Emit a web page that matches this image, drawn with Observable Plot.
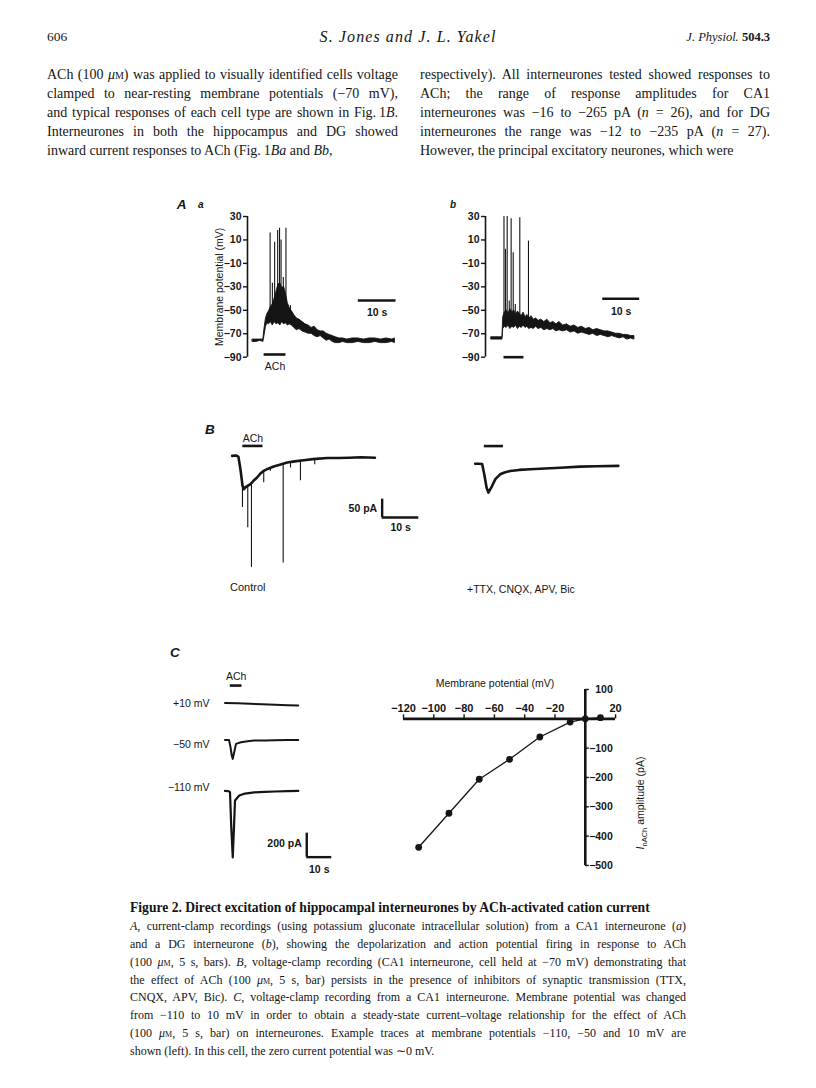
<!DOCTYPE html>
<html><head><meta charset="utf-8">
<script src="https://cdn.jsdelivr.net/npm/d3@7"></script>
<script src="https://cdn.jsdelivr.net/npm/@observablehq/plot@0.6"></script>
<style>
body{margin:0;background:#fff;}
#page{position:relative;width:816px;height:1088px;overflow:hidden;background:#fff;color:#151515;}
.t{position:absolute;white-space:nowrap;line-height:1;}
.serif{font-family:"Liberation Serif","Times New Roman",serif;}
.sans{font-family:"Liberation Sans",Arial,sans-serif;}
.jl{position:absolute;white-space:nowrap;line-height:1;text-align:justify;}
.sc{font-variant:small-caps;}
</style></head><body><div id="page"></div>
<script>
// ---------- DATA ----------
// Panel A a: current clamp CA1 interneurone (time s, membrane potential mV)
const aT  = [0,1,2,2.8,3.1,3.5,3.9,4.3,4.8,5.3,5.8,6.3,6.8,7.3,7.8,8.3,8.8,9.3,9.8,10.4,11,11.7,12.4,13.2,14,14.8,15.6,16.4,17.2,18,18.8,19.6,20.4,21.2,22,23,24,25,26.5,28,29.5,31,32.5,34,35.5,37,37.7];
const aLo = [-77,-77,-76,-77,-72,-64,-61,-62,-60,-63,-60,-62,-61,-63,-60,-62,-61,-63,-62,-63,-65,-67,-66,-68,-69,-70,-70,-72,-73,-72,-74,-76,-75,-77,-78,-78,-77,-78,-78,-77,-78,-78,-77,-78,-78,-77,-78];
const aHi = [-75,-75,-75,-75,-66,-57,-53,-51,-47,-45,-40,-34,-28,-27,-31,-30,-36,-44,-48,-51,-54,-57,-58,-60,-62,-63,-65,-64,-67,-68,-68,-70,-71,-72,-73,-74,-74,-75,-74,-74,-75,-74,-74,-75,-74,-75,-74];
const aSpikeT    = [4.6,5.2,5.8,6.6,7.1,7.5,8.1,8.8,10.0];
const aSpikePeak = [16,-27,8,18,20,10,-22,20,-46];
const achA_a = [3.0, 8.8];

// Panel A b: DG interneurone
const bT  = [0,1,2,2.9,3.1,3.5,4,4.5,5,5.5,6,6.5,7,7.5,8,8.5,9,9.5,10,10.6,11.2,11.8,12.5,13.2,14,14.8,15.6,16.4,17.2,18,19,20,21,22,23,24,25,26,27,28,29,30,31,32,33,34,35,36,37,37.9];
const bLo = [-75,-75,-75,-75,-66,-64,-65,-63,-66,-64,-65,-63,-66,-64,-65,-63,-65,-64,-66,-65,-66,-64,-66,-65,-67,-66,-67,-66,-68,-67,-68,-67,-69,-68,-70,-69,-70,-71,-70,-72,-71,-72,-73,-72,-73,-74,-73,-75,-74,-75];
const bHi = [-73,-73,-73,-73,-56,-52,-50,-53,-49,-52,-50,-54,-51,-53,-55,-52,-56,-54,-57,-55,-58,-57,-59,-58,-60,-58,-61,-60,-62,-60,-63,-62,-64,-63,-65,-64,-66,-65,-67,-66,-67,-68,-68,-69,-70,-70,-71,-71,-72,-72];
const bSpikeT    = [3.3,3.7,4.15,4.7,5.2,5.75,6.3,7.5,9.8];
const bSpikePeak = [30,2,30,-42,28,-1,-45,29,9];
const achA_b = [3.3, 8.6];
const vTicks = [30,10,-10,-30,-50,-70,-90];

// Panel B: voltage clamp (time s, current pA)
const cT = [0,1,1.7,2.3,2.8,3.2,3.6,4.2,5,5.8,6.8,7.7,8.6,9.8,11.3,13,15,17,19.5,22,25.9,29,32,35,38.9];
const cI = [0,1,-2,-40,-80,-91,-86,-82,-77,-68,-59,-48,-41,-35,-29,-24,-18,-15,-12,-9,-6,-6,-5,-4,-5];
const cSpikeT    = [2.8,4.25,5.26,8.6,10.4,13.9,15.9,18.6,22.5];
const cSpikeBase = [-80,-82,-77,-41,-32,-24,-18,-12,-9];
const cSpikePeak = [-141,-196,-304,-73,-42,-292,-33,-68,-24];
const achB_c = [2.9, 8.4];
const rT = [0,1,1.9,2.5,3.1,3.6,4.6,5.5,6.8,8,9.5,12,15,19,23.2,28.6,33,39];
const rI = [0,0,-1,-30,-65,-79,-61,-42,-29,-24,-20,-17,-15,-13,-11,-8,-7,-6];
const achB_r = [2.5, 7.7];

// Panel C traces
const p10T  = [0,5,10,15,20,25,29.3];
const p10I  = [0,-2,-6,-10,-13,-17,-20];
const m50T  = [0,1.6,2.2,2.7,3.1,3.5,4.4,6.4,9,11.7,16,20,25,29.3];
const m50I  = [0,0,-60,-130,-158,-120,-33,-20,-12,-6,-4,-2,-1,0];
const m110T = [0,1.5,2.0,2.5,3.1,3.6,4.0,5.7,8,11.7,16,20,25,29.3];
const m110I = [0,-3,-10,-300,-555,-300,-80,-38,-22,-12,-8,-5,-2,0];
const achC = [2.1, 6.8];
const cLabels = ["+10 mV","\u221250 mV","\u2212110 mV"];

// Panel C: I-V relationship
const ivV = [-110,-90,-70,-50,-30,-10,0,10];
const ivI = [-438,-322,-206,-138,-62,-11,0,4];
const ivXTicks = [-120,-100,-80,-60,-40,-20,20];
const ivYTicks = [100,-100,-200,-300,-400,-500];

// ---------- LAYOUT HELPERS ----------
const page = document.getElementById("page");
const INK = "#151515";
const fmt = d => d < 0 ? "\u2212" + Math.abs(d) : String(d);
const tab = (xs, ys, k1="t", k2="v") => xs.map((x,i)=>({[k1]:x,[k2]:ys[i]}));

function txt(html, x, y, o={}) {
  const d = document.createElement("div");
  d.className = "t " + (o.cls || "sans");
  d.innerHTML = html;
  d.style.fontSize = (o.size || 11) + "px";
  d.style.fontWeight = o.weight || "normal";
  d.style.fontStyle = o.italic ? "italic" : "normal";
  if (o.ls) d.style.letterSpacing = o.ls + "px";
  d.style.left = x + "px"; d.style.top = y + "px";
  const tx = o.anchor === "middle" ? "-50%" : o.anchor === "end" ? "-100%" : "0";
  d.style.transform = `translate(${tx},-50%)` + (o.rotate ? ` rotate(${o.rotate}deg)` : "");
  page.append(d);
}
function jline(html, x, y, w, size, justify, cls="serif", weight="normal") {
  const d = document.createElement("div");
  d.className = "jl " + cls;
  d.innerHTML = html;
  d.style.fontSize = size + "px";
  d.style.fontWeight = weight;
  d.style.left = x + "px"; d.style.top = y + "px"; d.style.width = w + "px";
  d.style.textAlignLast = justify ? "justify" : "left";
  d.style.transform = "translateY(-50%)";
  page.append(d);
}
function place({x0, kx, xd, y0, ky, yd, m=[10,10,10,10], marks}) {
  const [mt, mr, mb, ml] = m;
  const fl = x0 + kx*xd[0], fw = kx*(xd[1]-xd[0]);
  const ft = y0 - ky*yd[1], fh = ky*(yd[1]-yd[0]);
  const svg = Plot.plot({
    width: ml+fw+mr, height: mt+fh+mb,
    marginTop: mt, marginRight: mr, marginBottom: mb, marginLeft: ml,
    x: {domain: xd, axis: null}, y: {domain: yd, axis: null},
    style: {fontFamily: "Liberation Sans, Arial, sans-serif", fontSize: "10.5px", color: INK, background: "transparent", overflow: "visible"},
    marks
  });
  svg.style.position = "absolute";
  svg.style.left = (fl-ml) + "px";
  svg.style.top = (ft-mt) + "px";
  page.append(svg);
}
const K = v => () => v;

// ---------- PAGE TEXT ----------
txt("606", 47, 37, {cls:"serif", size:13.5});
txt("S. Jones and J. L. Yakel", 408, 37, {cls:"serif", size:16, italic:true, anchor:"middle", ls:1.1});
txt("J. Physiol. <b style='font-style:normal'>504.3</b>", 770, 37, {cls:"serif", size:12.5, italic:true, anchor:"end"});

const mu = "(100 <i>\u03bc</i><span class='sc'>m</span>)";
const leftLines = [
  `ACh ${mu} was applied to visually identified cells voltage`,
  "clamped to near-resting membrane potentials (\u221270 mV),",
  "and typical responses of each cell type are shown in Fig.\u20091<i>B</i>.",
  "Interneurones in both the hippocampus and DG showed",
  "inward current responses to ACh (Fig.\u20091<i>Ba</i> and <i>Bb</i>,"
];
const rightLines = [
  "respectively). All interneurones tested showed responses to",
  "ACh; the range of response amplitudes for CA1",
  "interneurones was \u221216 to \u2212265 pA (<i>n</i> = 26), and for DG",
  "interneurones the range was \u221212 to \u2212235 pA (<i>n</i> = 27).",
  "However, the principal excitatory neurones, which were"
];
const bodyY = [75, 94, 113, 132, 151];
leftLines.forEach((s,i)=> jline(s, 47, bodyY[i], 351, 14, i < 4));
rightLines.forEach((s,i)=> jline(s, 420, bodyY[i], 350, 14, i < 4));

// caption
const mu2 = "<i>\u03bc</i><span class='sc'>m</span>";
jline("Figure 2. Direct excitation of hippocampal interneurones by ACh-activated cation current", 130, 908, 556, 13.6, false, "serif", "bold");
const capLines = [
  "<i>A</i>, current-clamp recordings (using potassium gluconate intracellular solution) from a CA1 interneurone (<i>a</i>)",
  "and a DG interneurone (<i>b</i>), showing the depolarization and action potential firing in response to ACh",
  `(100 ${mu2}, 5 s, bars). <i>B</i>, voltage-clamp recording (CA1 interneurone, cell held at \u221270 mV) demonstrating that`,
  `the effect of ACh (100 ${mu2}, 5 s, bar) persists in the presence of inhibitors of synaptic transmission (TTX,`,
  "CNQX, APV, Bic). <i>C</i>, voltage-clamp recording from a CA1 interneurone. Membrane potential was changed",
  "from \u2212110 to 10 mV in order to obtain a steady-state current\u2013voltage relationship for the effect of ACh",
  `(100 ${mu2}, 5 s, bar) on interneurones. Example traces at membrane potentials \u2212110, \u221250 and 10 mV are`,
  "shown (left). In this cell, the zero current potential was \u223c0 mV."
];
const capY = [926, 944, 962, 979.5, 997, 1015, 1033, 1050.5];
capLines.forEach((s,i)=> jline(s, 130, capY[i], 556, 12, i < 7));

// figure letters and labels
txt("A", 176.7, 205, {size:13.5, italic:true, weight:"bold"});
txt("a", 198, 205, {size:10, italic:true, weight:"bold"});
txt("b", 450, 205, {size:10, italic:true, weight:"bold"});
txt("B", 205, 430, {size:13.5, italic:true, weight:"bold"});
txt("C", 170, 653, {size:13.5, italic:true, weight:"bold"});
txt("Control", 230, 587, {size:11});
txt("+TTX, CNQX, APV, Bic", 467, 588.5, {size:10.5});
[702.7, 744, 786.7].forEach((y,i)=> txt(cLabels[i], 209.5, y, {size:10.5, anchor:"end"}));
txt("Membrane potential (mV)", 495, 682.7, {size:10.5, anchor:"middle"});
txt("<i>I</i><sub style='font-size:7.5px'>nACh</sub> amplitude (pA)", 641.7, 803, {size:10.5, anchor:"middle", rotate:-90});

// ---------- PANEL A ----------
function panelA(T, Lo, Hi, spT, spPeak, ach, opt) {
  const xd = opt.xd, yd = [-90, 30];
  const tickLen = 4/3.77;
  place({x0: opt.x0, kx: 3.77, xd, y0: 251.2, ky: 140.7/120, yd, m: [12, 6, 22, 48], marks: [
    Plot.ruleX([xd[0]], {y1: K(-90), y2: K(30), stroke: INK, strokeWidth: 1.6}),
    Plot.ruleY(vTicks, {y: d=>d, x1: K(xd[0]-tickLen), x2: K(xd[0]), stroke: INK, strokeWidth: 1.4}),
    Plot.text(vTicks, {x: K(xd[0]), y: d=>d, text: fmt, textAnchor: "end", dx: -6, fontWeight: "bold", fill: INK}),
    ...(opt.ylabel ? [Plot.text([opt.ylabel], {x: K(xd[0]), y: K(-30), text: d=>d, rotate: -90, dx: -27.4, fill: INK, fontSize: 10.5})] : []),
    Plot.areaY(T.map((t,i)=>({t, lo: Lo[i], hi: Hi[i]})), {x: "t", y1: "lo", y2: "hi", fill: INK, stroke: INK, strokeWidth: 0.9}),
    Plot.ruleX(spT.map((t,i)=>({t, p: spPeak[i]})), {x: "t", y1: K(-60), y2: "p", stroke: INK, strokeWidth: 1.1}),
    Plot.ruleY([opt.barY], {x1: K(ach[0]), x2: K(ach[1]), stroke: INK, strokeWidth: 2.6}),
    ...(opt.achText ? [Plot.text(["ACh"], {x: K((ach[0]+ach[1])/2), y: K(opt.barY), text: d=>d, dy: 12, fill: INK, fontSize: 10.5})] : []),
    Plot.ruleY([opt.sbY], {x1: K(opt.sb[0]), x2: K(opt.sb[1]), stroke: INK, strokeWidth: 2.6}),
    Plot.text(["10 s"], {x: K((opt.sb[0]+opt.sb[1])/2), y: K(opt.sbY), text: d=>d, dy: 12.5, fill: INK, fontWeight: "bold", fontSize: 10.5})
  ]});
}
panelA(aT, aLo, aHi, aSpikeT, aSpikePeak, achA_a, {x0: 252.7, xd: [-1.4, 38.5], barY: -87.7, achText: true, sb: [28, 38], sbY: -41.7, ylabel: "Membrane potential (mV)"});
panelA(bT, bLo, bHi, bSpikeT, bSpikePeak, achA_b, {x0: 491, xd: [-1.6, 40], barY: -90, achText: false, sb: [29.5, 39.3], sbY: -40.2});

// ---------- PANEL B ----------
place({x0: 231.7, kx: 3.67, xd: [-1, 52], y0: 455, ky: 0.367, yd: [-310, 50], m: [10,10,10,10], marks: [
  Plot.ruleX(cSpikeT.map((t,i)=>({t, b: cSpikeBase[i], p: cSpikePeak[i]})), {x: "t", y1: "b", y2: "p", stroke: INK, strokeWidth: 1.1}),
  Plot.line(tab(cT, cI), {x: "t", y: "v", stroke: INK, strokeWidth: 2.6}),
  Plot.ruleY([27], {x1: K(achB_c[0]), x2: K(achB_c[1]), stroke: INK, strokeWidth: 2.6}),
  Plot.text(["ACh"], {x: K((achB_c[0]+achB_c[1])/2), y: K(27), text: d=>d, dy: -7.5, fill: INK, fontSize: 10.5}),
  Plot.ruleX([40.87], {y1: K(-168), y2: K(-118), stroke: INK, strokeWidth: 2.4}),
  Plot.ruleY([-168], {x1: K(40.87), x2: K(50.85), stroke: INK, strokeWidth: 2.4}),
  Plot.text(["50 pA"], {x: K(40.87), y: K(-143), text: d=>d, dx: -5, textAnchor: "end", fill: INK, fontWeight: "bold"}),
  Plot.text(["10 s"], {x: K(45.9), y: K(-168), text: d=>d, dy: 10.5, fill: INK, fontWeight: "bold"})
]});
place({x0: 475, kx: 3.67, xd: [-1, 40], y0: 462.7, ky: 0.367, yd: [-90, 55], m: [10,10,10,10], marks: [
  Plot.line(tab(rT, rI), {x: "t", y: "v", stroke: INK, strokeWidth: 2.6}),
  Plot.ruleY([48], {x1: K(achB_r[0]), x2: K(achB_r[1]), stroke: INK, strokeWidth: 2.6})
]});

// ---------- PANEL C traces ----------
place({x0: 224, kx: 2.5, xd: [-1, 31], y0: 702.5, ky: 0.12, yd: [-40, 230], m: [10,10,10,10], marks: [
  Plot.line(tab(p10T, p10I), {x: "t", y: "v", stroke: INK, strokeWidth: 2}),
  Plot.ruleY([146], {x1: K(achC[0]), x2: K(achC[1]), stroke: INK, strokeWidth: 2.6}),
  Plot.text(["ACh"], {x: K((achC[0]+achC[1])/2), y: K(146), text: d=>d, dy: -8.5, fill: INK, fontSize: 10.5})
]});
place({x0: 224, kx: 2.5, xd: [-1, 31], y0: 739.3, ky: 0.12, yd: [-170, 20], m: [10,10,10,10], marks: [
  Plot.line(tab(m50T, m50I), {x: "t", y: "v", stroke: INK, strokeWidth: 2})
]});
place({x0: 224, kx: 2.5, xd: [-1, 44], y0: 790.5, ky: 0.12, yd: [-680, 20], m: [10,10,10,10], marks: [
  Plot.line(tab(m110T, m110I), {x: "t", y: "v", stroke: INK, strokeWidth: 2.2}),
  Plot.ruleX([32.7], {y1: K(-552), y2: K(-352), stroke: INK, strokeWidth: 2.4}),
  Plot.ruleY([-552], {x1: K(32.7), x2: K(42.7), stroke: INK, strokeWidth: 2.4}),
  Plot.text(["200 pA"], {x: K(32.7), y: K(-440), text: d=>d, dx: -5, textAnchor: "end", fill: INK, fontWeight: "bold"}),
  Plot.text(["10 s"], {x: K(37.7), y: K(-552), text: d=>d, dy: 12.5, fill: INK, fontWeight: "bold"})
]});

// ---------- PANEL C: I-V plot ----------
const kxIV = 1.515, kyIV = 0.2933;
place({x0: 585, kx: kxIV, xd: [-120, 20], y0: 718.5, ky: kyIV, yd: [-500, 100], m: [20, 40, 10, 30], marks: [
  Plot.ruleY([0], {x1: K(-120), x2: K(20), stroke: INK, strokeWidth: 2.6}),
  Plot.ruleX([0], {y1: K(-500), y2: K(100), stroke: INK, strokeWidth: 2.6}),
  Plot.ruleX(ivXTicks, {x: d=>d, y1: K(0), y2: K(4/kyIV), stroke: INK, strokeWidth: 1.4}),
  Plot.text(ivXTicks, {x: d=>d, y: K(0), text: fmt, dy: -10, fill: INK, fontWeight: "bold", fontSize: 11}),
  Plot.ruleY(ivYTicks, {y: d=>d, x1: K(0), x2: K(4/kxIV), stroke: INK, strokeWidth: 1.4}),
  Plot.text(ivYTicks, {x: K(0), y: d=>d, text: fmt, dx: 27.5, textAnchor: "end", fill: INK, fontWeight: "bold", fontSize: 10.5}),
  Plot.line(tab(ivV, ivI), {x: "t", y: "v", stroke: INK, strokeWidth: 1.3}),
  Plot.dot(tab(ivV, ivI), {x: "t", y: "v", r: 3.4, fill: INK, stroke: "none"})
]});
</script></body></html>
